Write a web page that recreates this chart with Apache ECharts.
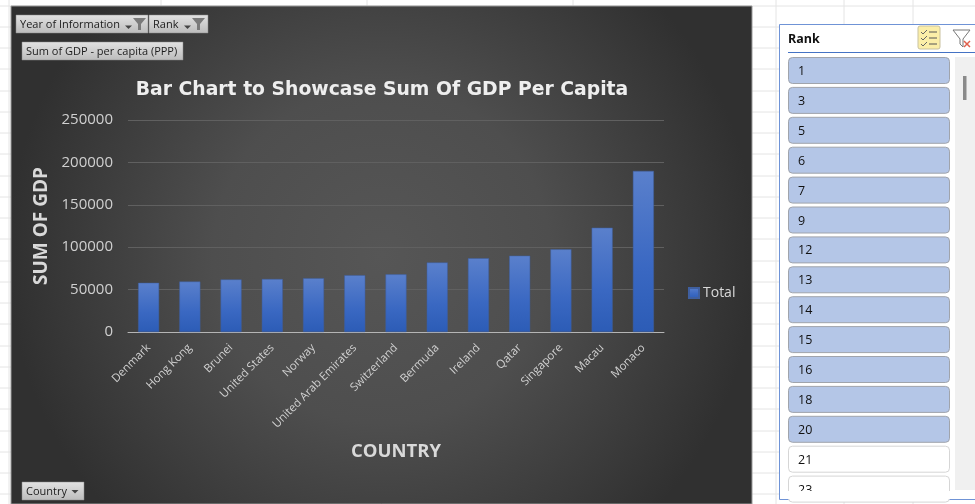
<!DOCTYPE html>
<html><head><meta charset="utf-8">
<style>html,body{margin:0;padding:0;background:#fff}#c{width:975px;height:504px}</style>
<script src="https://cdn.jsdelivr.net/npm/echarts@6/dist/echarts.min.js"></script>
</head><body><div id="c"></div>
<script>
const countries = ['Denmark','Hong Kong','Brunei','United States','Norway','United Arab Emirates','Switzerland','Bermuda','Ireland','Qatar','Singapore','Macau','Monaco'];
const gdpTotal = [58000,59500,62000,62500,63500,67000,68000,82000,87000,90000,97500,123000,190000];
const yTicks = {min:0,max:250000,interval:50000};
const ranksSelected = ['1','3','5','6','7','9','12','13','14','15','16','18','20'];
const ranksOther = ['21','23'];
const titleText = 'Bar Chart to Showcase Sum Of GDP Per Capita';

const chart = echarts.init(document.getElementById('c'),null,{renderer:'canvas'});
const g = [];
const ui = 'Open Sans, Noto Sans, sans-serif';
// worksheet grid
[9,161,367,573,776,844,913].forEach(x=>g.push({type:'line',silent:true,z:-30,shape:{x1:x,y1:0,x2:x,y2:504},style:{stroke:'#e4e4e4',lineWidth:1}}));
for(let i=0;i<24;i++){const y=Math.round(5.5+21.25*i);g.push({type:'line',silent:true,z:-30,shape:{x1:0,y1:y,x2:975,y2:y},style:{stroke:'#e4e4e4',lineWidth:1}});}
// chart area
g.push({type:'rect',silent:true,z:-20,shape:{x:11,y:6,width:741,height:498},style:{fill:new echarts.graphic.RadialGradient(0.5,0.5,0.75,[{offset:0,color:'#565656'},{offset:0.45,color:'#4e4e4e'},{offset:1,color:'#303030'}]),stroke:'#9a9a9a',lineWidth:1}});
// pivot buttons
function btn(x,y,w,h,text,arrow,funnel,arrowDy){
  g.push({type:'rect',silent:true,z:5,shape:{x,y,width:w,height:h},style:{fill:new echarts.graphic.LinearGradient(0,0,0,1,[{offset:0,color:'#e2e2e2'},{offset:1,color:'#bcbcbc'}]),stroke:'#8a8a8a',lineWidth:0.5}});
  g.push({type:'text',silent:true,z:6,style:{x:x+4,y:y+h/2+0.5,text,font:'11px '+ui,fill:'#1c1c1c',verticalAlign:'middle'}});
  const d=arrowDy==null?1.5:arrowDy;
  if(arrow!=null)g.push({type:'polygon',silent:true,z:6,shape:{points:[[arrow,y+h/2+d],[arrow+7,y+h/2+d],[arrow+3.5,y+h/2+d+3.5]]},style:{fill:'#444'}});
  if(funnel!=null)g.push({type:'polygon',silent:true,z:6,shape:{points:[[funnel,y+3],[funnel+13,y+3],[funnel+8,y+9],[funnel+8,y+15],[funnel+5,y+15],[funnel+5,y+9]]},style:{fill:'#7a7a7a'}});
}
btn(16,15,132,18,'Year of Information',125,133);
btn(149,15,59,18,'Rank',184,192);
btn(22,42,161,18,'Sum of GDP - per capita (PPP)');
btn(22,482,62,18,'Country',71.5,null,-1);
// slicer
g.push({type:'rect',silent:true,z:4,shape:{x:779.5,y:24.5,width:200,height:475},style:{fill:'#fff',stroke:'#6f93d6',lineWidth:1}});
g.push({type:'text',silent:true,z:5,style:{x:788,y:39,text:'Rank',font:'bold 12.5px '+ui,fill:'#111',verticalAlign:'middle'}});
g.push({type:'line',silent:true,z:5,shape:{x1:788,y1:52.5,x2:975,y2:52.5},style:{stroke:'#4472c4',lineWidth:1}});
g.push({type:'rect',silent:true,z:5,shape:{x:918,y:26,width:22,height:23,r:2},style:{fill:'#fbeea8',stroke:'#c9c2a0',lineWidth:1}});
[32,38,44].forEach(y=>{
  g.push({type:'polyline',silent:true,z:6,shape:{points:[[921,y],[923,y+2],[927,y-2]]},style:{stroke:'#666',lineWidth:1,fill:null}});
  g.push({type:'line',silent:true,z:6,shape:{x1:929,y1:y,x2:937,y2:y},style:{stroke:'#555',lineWidth:1}});
});
g.push({type:'polyline',silent:true,z:5,shape:{points:[[953,30],[970,30],[963,39],[963,47],[960,44],[960,39],[953,30]]},style:{stroke:'#777',lineWidth:1,fill:null}});
g.push({type:'line',silent:true,z:6,shape:{x1:964,y1:41,x2:970,y2:47},style:{stroke:'#e0604c',lineWidth:1.5}});
g.push({type:'line',silent:true,z:6,shape:{x1:970,y1:41,x2:964,y2:47},style:{stroke:'#e0604c',lineWidth:1.5}});
g.push({type:'rect',silent:true,z:5,shape:{x:955,y:57,width:20,height:433},style:{fill:'#f0f0f0'}});
g.push({type:'rect',silent:true,z:6,shape:{x:963,y:76,width:3.5,height:24},style:{fill:'#8a8a8a'}});
ranksSelected.concat(ranksOther).forEach((r,i)=>{
  const sel=i<ranksSelected.length, y=57.5+29.9*i;
  g.push({type:'rect',silent:true,z:5,shape:{x:788.5,y,width:161,height:26,r:4},style:{fill:sel?'#b4c6e7':'#fff',stroke:sel?'#a0a4ac':'#d6d6d6',lineWidth:1}});
  g.push({type:'text',silent:true,z:6,style:{x:798,y:y+14,text:r,font:'12.5px '+ui,fill:'#111',verticalAlign:'middle'}});
});
g.push({type:'rect',silent:true,z:7,shape:{x:781,y:491,width:194,height:8},style:{fill:'#fff'}});

chart.setOption({
  animation:false,
  backgroundColor:'#fff',
  title:{text:titleText,left:377,top:85,textAlign:'center',textVerticalAlign:'middle',textStyle:{color:'#eeeeee',fontFamily:'DejaVu Sans',fontWeight:'bold',fontSize:18.8}},
  legend:{show:true,left:683,top:281,itemWidth:10,itemHeight:10,itemGap:4,icon:'rect',data:['Total'],textStyle:{color:'#d9d9d9',fontFamily:'Open Sans',fontSize:14,padding:[0,0,0,-1]}},
  grid:{left:128,right:311,top:120,bottom:172,containLabel:false},
  xAxis:{type:'category',data:countries,
    name:'COUNTRY',nameLocation:'middle',nameGap:110,nameTextStyle:{color:'#d9d9d9',fontFamily:'Open Sans',fontWeight:'bold',fontSize:18.5},
    axisLine:{lineStyle:{color:'#b5b5b5',width:1}},axisTick:{show:false},
    axisLabel:{rotate:45,interval:0,margin:14,color:'#d0d0d0',fontFamily:'Open Sans',fontSize:11.4}},
  yAxis:{type:'value',min:yTicks.min,max:yTicks.max,interval:yTicks.interval,
    name:'SUM OF GDP',nameLocation:'middle',nameGap:75,nameRotate:90,nameTextStyle:{color:'#d9d9d9',fontFamily:'Open Sans',fontWeight:'bold',fontSize:19},
    axisLine:{show:false},axisTick:{show:false},
    splitLine:{lineStyle:{color:'#606060',width:1}},
    axisLabel:{margin:15,color:'#d0d0d0',fontFamily:'Open Sans',fontSize:15,formatter:v=>String(v)}},
  series:[{name:'Total',type:'bar',data:gdpTotal,barWidth:21,
    itemStyle:{borderColor:'#3f5f9f',borderWidth:0.5,color:new echarts.graphic.LinearGradient(0,0,0,1,[{offset:0,color:'#5a80cc'},{offset:0.6,color:'#3a68c2'},{offset:1,color:'#2c5cb6'}])}}],
  graphic:{elements:g}
});
</script></body></html>
